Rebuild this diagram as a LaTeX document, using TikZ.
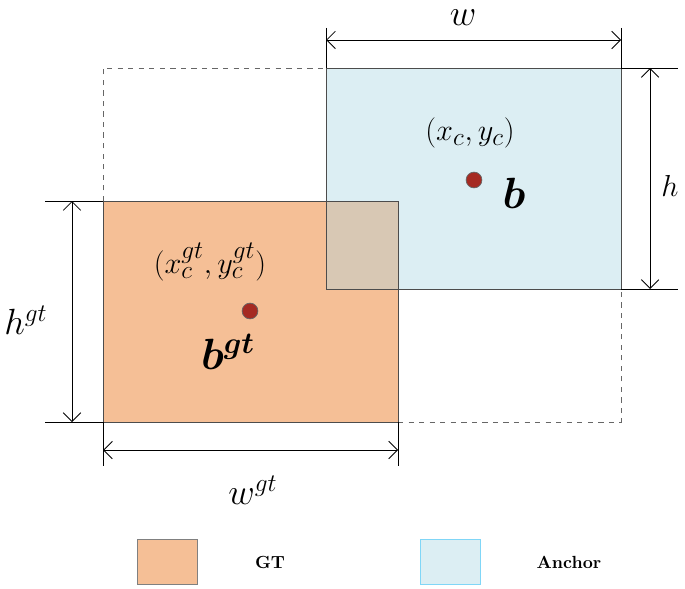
\documentclass[tikz,border=0pt]{standalone}
\usepackage{amsmath}
\usetikzlibrary{arrows.meta}
\definecolor{gtfill}{HTML}{F5BF96}
\definecolor{anfill}{HTML}{DCEEF3}
\definecolor{ovfill}{HTML}{D8C8B4}
\definecolor{dotred}{HTML}{A52A22}
\begin{document}
\begin{tikzpicture}[x=0.02cm, y=-0.02cm]
    % Styles
    \tikzset{
        box/.style={draw=black!70, line width=0.5pt},
        dim/.style={{Straight Barb[length=5pt]}-{Straight Barb[length=5pt]}, line width=0.5pt},
        ext/.style={line width=0.5pt},
        centre/.style={circle, fill=dotred, draw=black!60, inner sep=0pt, minimum size=9pt},
        legend/.style={draw=black!50, minimum width=1.2cm, minimum height=0.9cm, inner sep=0pt},
        coord/.style={font=\fontsize{19}{22}\selectfont, inner sep=0pt},
        big/.style={font=\fontsize{26}{30}\selectfont, inner sep=0pt},
        dimlabel/.style={font=\fontsize{22}{26}\selectfont, inner sep=0pt}
    }
    \useasboundingbox (0,0) rectangle (685,588);

    % Boxes
    \fill[gtfill] (103,201) rectangle (398,422);
    \fill[anfill] (326,68) rectangle (621,289);
    \fill[ovfill] (326,201) rectangle (398,289);
    \draw[box] (103,201) rectangle (398,422);
    \draw[box] (326,68) rectangle (621,289);
    \draw[dashed, black!60] (103,201) -- (103,68) -- (326,68);
    \draw[dashed, black!60] (398,422) -- (621,422) -- (621,289);

    % Centres
    \node[centre] (c) at (474,180) {};
    \node[centre] (cgt) at (250,311) {};
    \node[coord] (lc) at (470,133) {$(x_c, y_c)$};
    \node[big] (lb) at (514,193) {$\boldsymbol{b}$};
    \node[coord] (lcgt) at (210,262) {$(x_c^{gt}, y_c^{gt})$};
    \node[big] (lbgt) at (228,352) {$\boldsymbol{b^{gt}}$};

    % Dimensions
    \coordinate (w1) at (326,40); \coordinate (w2) at (621,40);
    \draw[ext] (326,28) -- (326,68); \draw[ext] (621,28) -- (621,68);
    \draw[dim] (w1) -- (w2);
    \node[dimlabel] (lw) at (463,18) {$w$};

    \coordinate (h1) at (650,68); \coordinate (h2) at (650,289);
    \draw[ext] (621,68) -- (678,68); \draw[ext] (621,289) -- (678,289);
    \draw[dim] (h1) -- (h2);
    \node[coord] (lh) at (670,186) {$h$};

    \coordinate (hg1) at (72,201); \coordinate (hg2) at (72,422);
    \draw[ext] (45,201) -- (103,201); \draw[ext] (45,422) -- (103,422);
    \draw[dim] (hg1) -- (hg2);
    \node[dimlabel] (lhgt) at (26,320) {$h^{gt}$};

    \coordinate (wg1) at (103,450); \coordinate (wg2) at (398,450);
    \draw[ext] (103,422) -- (103,466); \draw[ext] (398,422) -- (398,466);
    \draw[dim] (wg1) -- (wg2);
    \node[dimlabel] (lwgt) at (253,490) {$w^{gt}$};

    % Legend
    \node[legend, fill=gtfill] (kgt) at (167,562) {};
    \node (tgt) at (270,562) {\bfseries GT};
    \node[legend, fill=anfill, draw=cyan!50] (kan) at (450,562) {};
    \node (tan) at (569,562) {\bfseries Anchor};
\end{tikzpicture}
\end{document}
